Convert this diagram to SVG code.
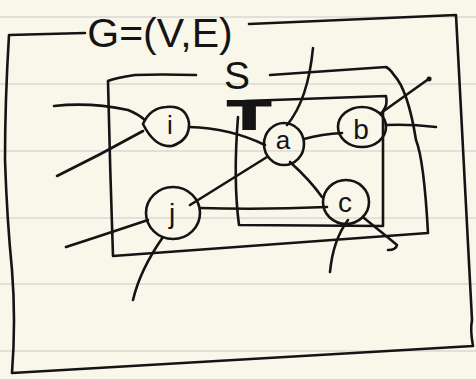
<svg xmlns="http://www.w3.org/2000/svg" width="476" height="379" viewBox="0 0 476 379">
<style>
.ln{fill:none;stroke:#141414;stroke-width:2.6;stroke-linecap:round;stroke-linejoin:round}
.rule{stroke:#d9d9d6;stroke-width:1.5}
.nd{fill:none;stroke:#141414;stroke-width:2.6}
.lb{font-family:"Liberation Sans",Arial,sans-serif;fill:#141414;text-anchor:middle}
</style>
<rect width="476" height="379" fill="#f9f7ea"/>
<g id="ruling">
<line class="rule" x1="0" y1="17" x2="476" y2="17"/>
<line class="rule" x1="0" y1="84" x2="476" y2="84"/>
<line class="rule" x1="0" y1="151" x2="476" y2="151"/>
<line class="rule" x1="0" y1="218" x2="476" y2="218"/>
<line class="rule" x1="0" y1="284" x2="476" y2="284"/>
<line class="rule" x1="0" y1="351" x2="476" y2="351"/>
</g>
<g id="G-box">
<path class="ln" d="M85,33 L9,35 Q5,100 5,160 Q7,220 12,270 Q16,320 12,373 L473,346 Q470,330 472,320 Q466,200 456,15 L249,24"/>
<text class="lb" x="160" y="47" font-size="41">G=(V,E)</text>
</g>
<g id="S-box">
<path class="ln" d="M196,75 Q160,74 135,75 Q115,78 108,81 Q110,170 113,256 L428,233 Q424,160 416,140 Q408,90 394,75 Q390,69 386,67 L270,75"/>
<text class="lb" x="237" y="89" font-size="39">S</text>
</g>
<g id="T-box">
<path class="ln" d="M245,101 L386,96 Q388,105 383,111 L383,226 L239,225 Q233,180 238,117"/>
<text class="lb" x="0" y="0" font-size="40" font-weight="bold" stroke="#141414" stroke-width="2" transform="translate(249,129) scale(1.75,1)">T</text>
</g>
<g id="connectors">
<path class="ln" d="M54,106 Q90,102 128,110 Q138,114 145,120"/>
<path class="ln" d="M57,176 Q100,155 143,131"/>
<path class="ln" d="M189,127 Q230,128 265,145"/>
<path class="ln" d="M313,48 Q308,100 287,125"/>
<path class="ln" d="M304,139 Q322,134 342,133"/>
<path class="ln" d="M267,157 L190,205"/>
<path class="ln" d="M290,162 Q310,180 322,197"/>
<path class="ln" d="M381,113 L430,78"/>
<path class="ln" d="M386,125 Q410,124 436,127"/>
<path class="ln" d="M200,208 Q260,210 327,207"/>
<path class="ln" d="M66,247 Q100,236 148,220"/>
<path class="ln" d="M133,300 Q140,270 163,237"/>
<path class="ln" d="M330,272 Q333,240 348,220"/>
<path class="ln" d="M364,218 Q385,235 397,245 Q396,250 388,250"/>
<circle cx="429" cy="79" r="2.5" fill="#141414"/>
</g>
<g id="node-i">
<path class="nd" d="M143,124 Q150,108 166,107 Q186,105 189,123 Q190,140 172,146 Q155,148 143,124 Z"/>
<text class="lb" x="170" y="134" font-size="26">i</text>
</g>
<g id="node-a">
<ellipse class="nd" cx="284" cy="144" rx="20" ry="21"/>
<text class="lb" x="283" y="149" font-size="26">a</text>
</g>
<g id="node-b">
<ellipse class="nd" cx="362" cy="127" rx="24" ry="20"/>
<text class="lb" x="361" y="139" font-size="28">b</text>
</g>
<g id="node-c">
<ellipse class="nd" cx="346" cy="202" rx="23" ry="22"/>
<text class="lb" x="345" y="212" font-size="28">c</text>
</g>
<g id="node-j">
<ellipse class="nd" cx="173" cy="213" rx="27" ry="26"/>
<text class="lb" x="172" y="223" font-size="28">j</text>
</g>
</svg>
